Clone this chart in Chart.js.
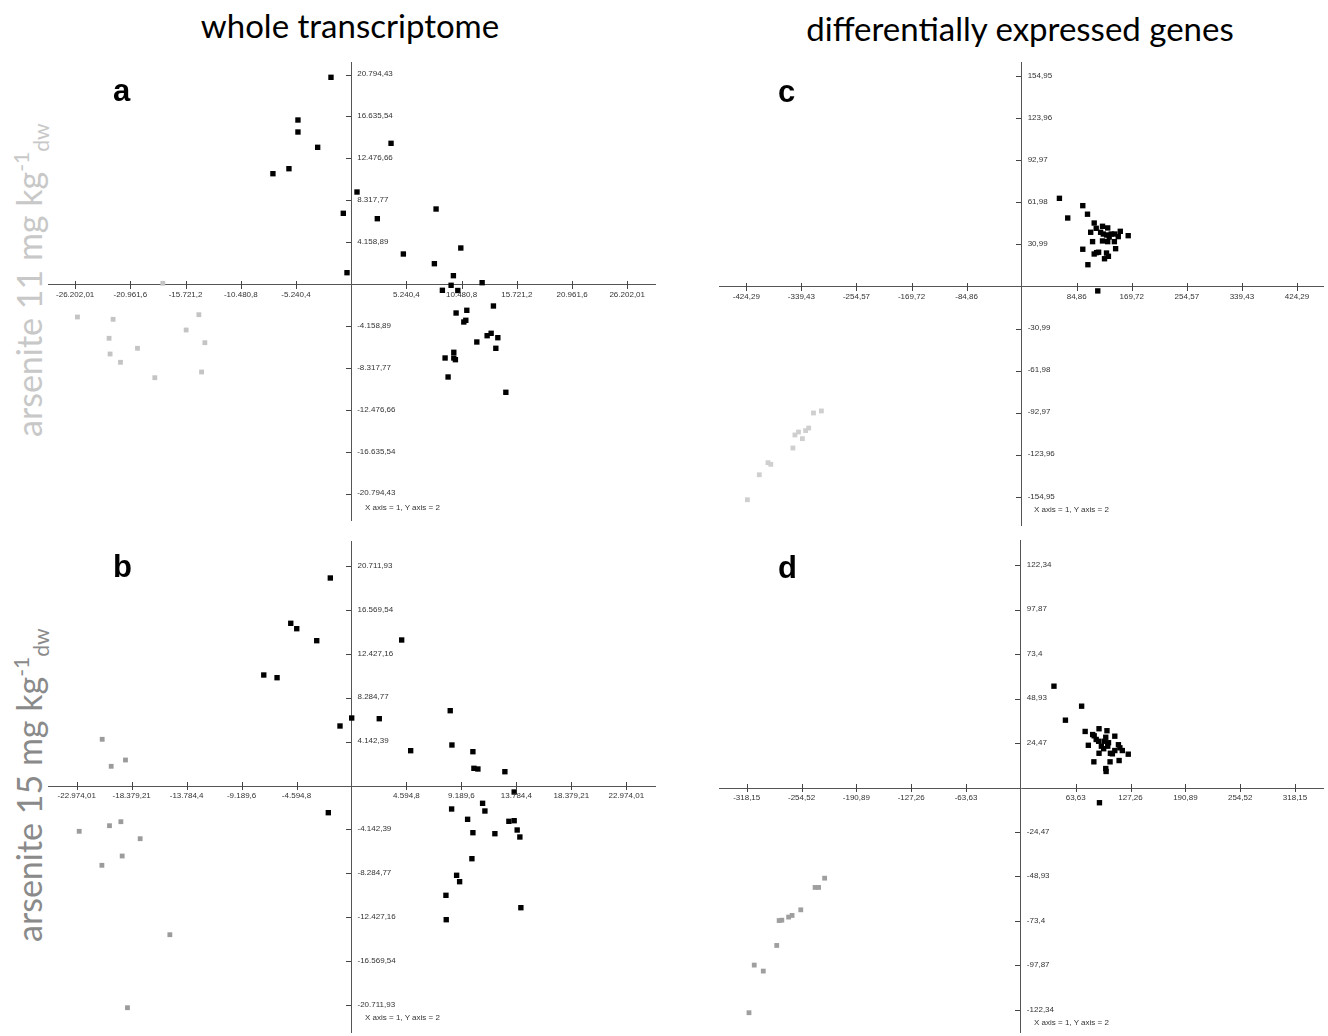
<!DOCTYPE html>
<html>
<head>
<meta charset="utf-8">
<script src="https://cdn.jsdelivr.net/npm/chart.js@4.4.1/dist/chart.umd.min.js"></script>
<style>
  body { margin: 0; width: 1328px; height: 1036px; background: #fff; position: relative; overflow: hidden; }
  canvas { position: absolute; }
  .title { position: absolute; font-family: Lato, "Open Sans", sans-serif; font-size: 33px; color: #000; text-align: center; white-space: nowrap; line-height: 1; }
  .row { position: absolute; transform: rotate(-90deg); transform-origin: 0 0; font-family: Lato, "Open Sans", sans-serif; font-size: 34px; line-height: 1; white-space: nowrap; }
  .row sup { font-size: 0.62em; vertical-align: 0.62em; line-height: 0; }
  .row sub { font-size: 0.62em; vertical-align: -0.35em; line-height: 0; }
  .letter { position: absolute; font-family: "Liberation Sans", Arial, sans-serif; font-weight: bold; font-size: 31px; line-height: 1; }
  .note { position: absolute; font-family: "Liberation Sans Narrow", "Arial Narrow", "Liberation Sans", sans-serif; font-size: 8px; line-height: 8px; color: #333; white-space: nowrap; }
</style>
</head>
<body>
<div class="title" style="left:0; width:700px; top:9px;">whole transcriptome</div>
<div class="title" style="left:670px; width:700px; top:12px;">differentially expressed genes</div>

<div class="row" style="left:12px; top:437px; color:#c8c8c8;">arsenite 11 mg kg<sup>-1</sup><sub>dw</sub></div>
<div class="row" style="left:12px; top:942px; color:#8a8a8a;">arsenite 15 mg kg<sup>-1</sup><sub>dw</sub></div>

<canvas id="panelA" width="626" height="478" style="left:40px; top:54px;"></canvas>
<canvas id="panelB" width="626" height="502" style="left:40px; top:534px;"></canvas>
<canvas id="panelC" width="628" height="478" style="left:700px; top:54px;"></canvas>
<canvas id="panelD" width="628" height="504" style="left:700px; top:532px;"></canvas>

<div class="letter" style="left:113px; top:75px;">a</div>
<div class="letter" style="left:113px; top:551px;">b</div>
<div class="letter" style="left:778px; top:76px;">c</div>
<div class="letter" style="left:778px; top:552px;">d</div>

<div class="note" style="left:365px; top:504px;">X axis = 1, Y axis = 2</div>
<div class="note" style="left:365px; top:1014px;">X axis = 1, Y axis = 2</div>
<div class="note" style="left:1034px; top:506px;">X axis = 1, Y axis = 2</div>
<div class="note" style="left:1034px; top:1019px;">X axis = 1, Y axis = 2</div>

<script>
// tick labels
const aXTicks = [-26202.01, -20961.6, -15721.2, -10480.8, -5240.4, 5240.4, 10480.8, 15721.2, 20961.6, 26202.01];
const aYTicks = [-20794.43, -16635.54, -12476.66, -8317.77, -4158.89, 4158.89, 8317.77, 12476.66, 16635.54, 20794.43];
const bXTicks = [-22974.01, -18379.21, -13784.4, -9189.6, -4594.8, 4594.8, 9189.6, 13784.4, 18379.21, 22974.01];
const bYTicks = [-20711.93, -16569.54, -12427.16, -8284.77, -4142.39, 4142.39, 8284.77, 12427.16, 16569.54, 20711.93];
const cXTicks = [-424.29, -339.43, -254.57, -169.72, -84.86, 84.86, 169.72, 254.57, 339.43, 424.29];
const cYTicks = [-154.95, -123.96, -92.97, -61.98, -30.99, 30.99, 61.98, 92.97, 123.96, 154.95];
const dXTicks = [-318.15, -254.52, -190.89, -127.26, -63.63, 63.63, 127.26, 190.89, 254.52, 318.15];
const dYTicks = [-122.34, -97.87, -73.4, -48.93, -24.47, 24.47, 48.93, 73.4, 97.87, 122.34];

// a: whole transcriptome, 11 mg
const aBlack = [[-1919,20565],[-5055,16330],[-5055,15140],[-3183,13622],[-5910,11500],[-7431,11004],[551,9189],[-751,7077],[-399,1185],[3782,14019],[8058,7503],[2480,6541],[4951,3040],[10405,3635],[7896,2078],[9702,888],[12429,193],[9483,-64],[8656,-560],[10120,-580],[13502,-2117],[9958,-2812],[10975,-2544],[10690,-3704],[10880,-3536],[11925,-5688],[12904,-5063],[13284,-4825],[13920,-5262],[13730,-6313],[9740,-6710],[8913,-7275],[9740,-7275],[9892,-7443],[9198,-9159],[14681,-10677]];
const aGray = [[-17883,134],[-25988,-3208],[-22605,-3437],[-14462,-2980],[-15669,-4498],[-22985,-5321],[-20287,-6313],[-13892,-5757],[-22890,-6878],[-21902,-7701],[-14205,-8663],[-18643,-9229]];

// b: whole transcriptome, 15 mg
const bBlack = [[-1771,19627],[-5079,15352],[-4578,14843],[-2907,13711],[-7335,10474],[-6224,10219],[17,6416],[-961,5662],[4194,13777],[2322,6350],[8254,7105],[8396,3869],[4946,3331],[10150,3237],[10234,1670],[10568,1604],[12823,1349],[-1938,-2519],[13600,-566],[8371,-2170],[10960,-1632],[11153,-2359],[9707,-3142],[13158,-3331],[13600,-3274],[10150,-4407],[11988,-4501],[13851,-4152],[14076,-4812],[10067,-6860],[8788,-8426],[9039,-9030],[7895,-10314],[14160,-11484],[7920,-12616]];
const bGray = [[-20843,4407],[-20091,1859],[-18897,2453],[-22765,-4275],[-20233,-3746],[-19281,-3369],[-17669,-4973],[-19172,-6605],[-20868,-7483],[-15187,-14031],[-18730,-20920]];

// c: differentially expressed genes, 11 mg
const cBlack = [[58.2,65.3],[94.2,59.9],[71.0,50.8],[101.5,53.6],[111.8,47.1],[124.6,44.7],[132.6,43.5],[114.9,43.2],[106.4,40.3],[121.7,40.3],[125.8,39.0],[130.8,38.3],[138.0,39.0],[143.5,39.0],[152.0,41.0],[148.9,37.1],[164.2,37.8],[134.9,36.8],[109.3,33.4],[124.6,33.9],[132.6,33.4],[142.9,33.4],[94.2,27.8],[111.8,24.3],[115.5,25.3],[118.6,25.6],[130.8,25.0],[144.8,28.2],[127.7,20.8],[133.7,22.6],[102.1,16.4],[117.3,-2.9]];
const cGray = [[-308.6,-91.3],[-320.8,-92.8],[-328.2,-103.9],[-332.9,-105.8],[-343.9,-106.8],[-349.4,-109.0],[-337.9,-111.7],[-352.5,-118.6],[-390.9,-129.4],[-386.6,-130.6],[-404.3,-138.3],[-422.6,-156.7]];

// d: differentially expressed genes, 15 mg
const dBlack = [[38.4,56.0],[70.5,45.0],[51.7,37.3],[74.6,31.1],[90.7,32.6],[99.9,31.5],[109.0,28.5],[83.3,29.4],[85.1,28.7],[87.4,26.7],[90.2,25.7],[96.6,25.7],[101.7,24.9],[98.5,27.9],[78.3,23.5],[93.4,23.0],[96.1,21.6],[100.8,23.0],[113.2,23.8],[114.9,22.1],[109.0,20.6],[117.7,20.6],[90.7,19.1],[103.9,19.1],[106.2,18.8],[124.6,18.6],[84.7,14.4],[103.5,14.4],[114.0,15.1],[98.5,10.7],[98.9,9.1],[91.2,-8.1]];
const dGray = [[-227.7,-49.6],[-238.8,-54.7],[-234.7,-54.7],[-255.4,-67.0],[-265.5,-70.1],[-269.5,-71.0],[-277.4,-72.7],[-280.5,-72.9],[-283.3,-86.6],[-309.4,-97.4],[-298.9,-100.7],[-315.5,-123.6]];

// 1234.5 -> "1.234,5"
function fmt(v) {
    const parts = Math.abs(v).toString().split('.');
    const whole = parts[0].replace(/\B(?=(\d{3})+(?!\d))/g, '.');
    return (v < 0 ? '-' : '') + whole + (parts[1] ? ',' + parts[1] : '');
}

// labels and x tick crosses sit on the crossing axes, so draw them from the scales
const axisLabels = {
    id: 'axisLabels',
    afterDraw(chart) {
        const ctx = chart.ctx;
        const x = chart.scales.x, y = chart.scales.y;
        const ox = x.getPixelForValue(0), oy = Math.round(y.getPixelForValue(0));
        ctx.save();
        ctx.strokeStyle = '#444';
        ctx.lineWidth = 1;
        ctx.beginPath();
        x.ticks.forEach(t => {
            const px = Math.round(x.getPixelForValue(t.value)) + 0.5;
            ctx.moveTo(px, oy - 4);
            ctx.lineTo(px, oy + 4);
        });
        ctx.stroke();
        ctx.font = '8px "Liberation Sans Narrow", "Arial Narrow", "Liberation Sans", sans-serif';
        ctx.fillStyle = '#333';
        ctx.textAlign = 'center';
        ctx.textBaseline = 'middle';
        x.ticks.forEach(t => ctx.fillText(fmt(t.value), x.getPixelForValue(t.value), oy + 10));
        ctx.textAlign = 'left';
        y.ticks.forEach(t => ctx.fillText(fmt(t.value), ox + 6, y.getPixelForValue(t.value) - 1));
        ctx.restore();
    }
};

function toXY(arr) {
    return arr.map(p => ({x: p[0], y: p[1]}));
}

function makePanel(id, black, gray, grayColor, xTicks, yTicks, xRange, yRange, pad) {
    new Chart(document.getElementById(id), {
        type: 'scatter',
        data: {
            datasets: [{
                data: toXY(gray),
                backgroundColor: grayColor,
                borderWidth: 0,
                pointStyle: 'rect',
                pointRadius: 3.4
            }, {
                data: toXY(black),
                backgroundColor: '#000',
                borderWidth: 0,
                pointStyle: 'rect',
                pointRadius: 3.8
            }]
        },
        options: {
            responsive: false,
            animation: false,
            layout: { padding: pad },
            plugins: {
                legend: { display: false },
                tooltip: { enabled: false }
            },
            scales: {
                x: {
                    type: 'linear',
                    position: { y: 0 },
                    min: xRange[0],
                    max: xRange[1],
                    bounds: 'data',
                    afterBuildTicks: s => { s.ticks = xTicks.map(v => ({value: v})); },
                    ticks: { display: false },
                    grid: { display: false },
                    border: { display: true, color: '#555', width: 1 }
                },
                y: {
                    type: 'linear',
                    position: { x: 0 },
                    min: yRange[0],
                    max: yRange[1],
                    bounds: 'data',
                    afterBuildTicks: s => { s.ticks = yTicks.map(v => ({value: v})); },
                    ticks: { display: false },
                    grid: { drawOnChartArea: false, tickLength: 5, color: '#444' },
                    border: { color: '#555', width: 1 }
                }
            }
        },
        plugins: [axisLabels]
    });
}

makePanel('panelA', aBlack, aGray, '#c4c4c4', aXTicks, aYTicks, [-28783, 28840], [-23344, 22084], {left: 8, top: 8, right: 11, bottom: 12});
makePanel('panelB', bBlack, bGray, '#9b9b9b', bXTicks, bYTicks, [-25374, 25374], [-23212, 23118], {left: 8, top: 7, right: 11, bottom: 4});
makePanel('panelC', cBlack, cGray, '#cfcfcf', cXTicks, cYTicks, [-466.4, 464.4], [-175.3, 165.7], {left: 19, top: 8, right: 5, bottom: 7});
makePanel('panelD', dBlack, dGray, '#9f9f9f', dXTicks, dYTicks, [-350.3, 350.6], [-134.2, 136.4], {left: 19, top: 8, right: 5, bottom: 4});
</script>
</body>
</html>
